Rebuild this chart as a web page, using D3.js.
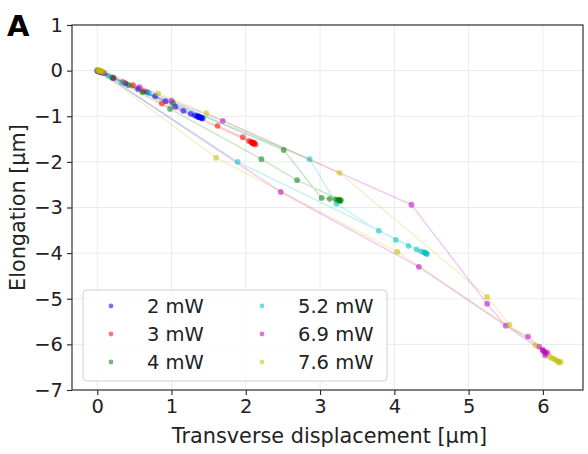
<!DOCTYPE html>
<html>
<head>
<meta charset="utf-8">
<script src="https://cdn.jsdelivr.net/npm/d3@7"></script>
<style>
  html, body { margin: 0; padding: 0; background: #fff; }
  svg { display: block; font-family: "DejaVu Sans", sans-serif; }
</style>
</head>
<body>
<svg id="chart" width="588" height="454"></svg>
<script>
// Trajectories (transverse displacement, elongation) in µm, one per laser power
const p2mW = [[0.01,0.0],[0.03,-0.02],[0.08,-0.05],[0.22,-0.16],[0.38,-0.28],[0.55,-0.40],[0.67,-0.47],[0.78,-0.56],[0.92,-0.67],[1.05,-0.79],[1.16,-0.88],[1.26,-0.95],[1.31,-0.98],[1.34,-1.0],[1.36,-1.01],[1.38,-1.02],[1.40,-1.03],[1.37,-1.02],[1.41,-1.05],[1.39,-1.03],[1.42,-1.04],[1.36,-1.0],[0.02,-0.01]];
const p3mW = [[0.0,0.0],[0.02,-0.01],[0.05,-0.03],[0.21,-0.16],[0.35,-0.25],[0.48,-0.32],[0.62,-0.45],[0.87,-0.72],[1.62,-1.21],[1.96,-1.46],[2.04,-1.54],[2.07,-1.56],[2.09,-1.58],[2.10,-1.59],[2.12,-1.60],[2.08,-1.57],[2.11,-1.58],[2.13,-1.62],[2.10,-1.60],[0.03,-0.02]];
const p4mW = [[0.01,-0.01],[0.04,-0.03],[0.20,-0.15],[0.42,-0.32],[0.61,-0.47],[1.02,-0.71],[2.51,-1.74],[3.02,-2.79],[3.13,-2.81],[3.21,-2.82],[3.24,-2.84],[3.26,-2.83],[3.27,-2.86],[3.25,-2.85],[3.28,-2.84],[2.69,-2.40],[2.21,-1.94],[0.98,-0.84],[0.05,-0.04]];
const p52mW = [[0.0,-0.01],[0.04,-0.02],[0.15,-0.11],[0.33,-0.26],[0.70,-0.50],[2.86,-1.94],[3.22,-2.92],[3.79,-3.51],[4.02,-3.71],[4.19,-3.84],[4.30,-3.92],[4.36,-3.96],[4.40,-3.98],[4.42,-4.0],[4.43,-4.01],[4.41,-3.99],[4.44,-4.02],[1.89,-2.0],[0.04,-0.03]];
const p69mW = [[0.0,0.0],[0.03,-0.01],[0.10,-0.06],[0.57,-0.36],[1.0,-0.66],[1.69,-1.10],[4.23,-2.94],[5.25,-5.11],[5.50,-5.59],[5.80,-5.83],[5.95,-6.05],[6.0,-6.12],[6.02,-6.16],[6.04,-6.20],[6.03,-6.24],[6.06,-6.18],[6.0,-6.14],[4.33,-4.30],[2.47,-2.66],[0.04,-0.02]];
const p76mW = [[0.0,0.02],[0.02,0.01],[0.04,0.0],[0.06,-0.01],[0.08,-0.03],[0.82,-0.50],[1.47,-0.93],[3.26,-2.24],[5.25,-4.96],[5.55,-5.57],[5.90,-6.02],[6.09,-6.27],[6.12,-6.30],[6.15,-6.32],[6.18,-6.35],[6.20,-6.37],[6.22,-6.40],[6.24,-6.38],[4.04,-3.97],[1.60,-1.91],[0.03,-0.01]];

const seriesLabels = ["2 mW", "3 mW", "4 mW", "5.2 mW", "6.9 mW", "7.6 mW"];
const seriesPoints = [p2mW, p3mW, p4mW, p52mW, p69mW, p76mW];
const seriesColors = ["#0000ff", "#ff0000", "#008000", "#00bfbf", "#bf00bf", "#bfbf00"];

const xTicks = [0, 1, 2, 3, 4, 5, 6];
const yTicks = [-7, -6, -5, -4, -3, -2, -1, 0, 1];
const xDomain = [-0.34, 6.54];
const yDomain = [-7, 1];

const plot = { left: 72, right: 583, top: 25, bottom: 390 };
const svg = d3.select("#chart");

const x = d3.scaleLinear().domain(xDomain).range([plot.left, plot.right]);
const y = d3.scaleLinear().domain(yDomain).range([plot.bottom, plot.top]);

// grid
const grid = svg.append("g").attr("stroke", "#ebebeb").attr("stroke-width", 1);
grid.selectAll(".gx").data(xTicks).join("line")
  .attr("x1", d => x(d)).attr("x2", d => x(d))
  .attr("y1", plot.top).attr("y2", plot.bottom);
grid.selectAll(".gy").data(yTicks).join("line")
  .attr("x1", plot.left).attr("x2", plot.right)
  .attr("y1", d => y(d)).attr("y2", d => y(d));

svg.append("clipPath").attr("id", "plotclip")
  .append("rect").attr("x", plot.left).attr("y", plot.top)
  .attr("width", plot.right - plot.left).attr("height", plot.bottom - plot.top);

const dataLayer = svg.append("g").attr("clip-path", "url(#plotclip)");
const line = d3.line().x(d => x(d[0])).y(d => y(d[1]));

// connecting paths first, then the markers
seriesPoints.forEach((pts, i) => {
  dataLayer.append("path").datum(pts)
    .attr("d", line)
    .attr("fill", "none")
    .attr("stroke", seriesColors[i])
    .attr("stroke-opacity", 0.2)
    .attr("stroke-width", 1.5)
    .attr("stroke-linejoin", "round");
});
seriesPoints.forEach((pts, i) => {
  dataLayer.append("g").selectAll("circle").data(pts).join("circle")
    .attr("cx", d => x(d[0])).attr("cy", d => y(d[1]))
    .attr("r", 2.9)
    .attr("fill", seriesColors[i])
    .attr("fill-opacity", 0.55);
});

// axes
const xAxis = d3.axisBottom(x).tickValues(xTicks).tickSize(5).tickPadding(4)
  .tickFormat(d => d3.format("d")(d));
const yAxis = d3.axisLeft(y).tickValues(yTicks).tickSize(5).tickPadding(4)
  .tickFormat(d => (d < 0 ? "\u2212" + Math.abs(d) : String(d)));

const gx = svg.append("g").attr("transform", `translate(0,${plot.bottom})`).call(xAxis);
const gy = svg.append("g").attr("transform", `translate(${plot.left},0)`).call(yAxis);
[gx, gy].forEach(g => {
  g.select(".domain").remove();
  g.selectAll(".tick line").attr("stroke", "#222").attr("stroke-width", 1.1);
  g.selectAll(".tick text").attr("fill", "#222").style("font-size", "19.5px")
    .style("font-family", "'DejaVu Sans', sans-serif");
});

// frame
svg.append("rect")
  .attr("x", plot.left).attr("y", plot.top)
  .attr("width", plot.right - plot.left).attr("height", plot.bottom - plot.top)
  .attr("fill", "none").attr("stroke", "#333").attr("stroke-width", 1.2);

// axis titles
svg.append("text")
  .attr("x", (plot.left + plot.right) / 2 + 2).attr("y", 443)
  .attr("text-anchor", "middle").attr("fill", "#222")
  .style("font-size", "20.8px")
  .text("Transverse displacement [µm]");
svg.append("text")
  .attr("transform", `translate(25,${(plot.top + plot.bottom) / 2}) rotate(-90)`)
  .attr("text-anchor", "middle").attr("fill", "#222")
  .style("font-size", "20.8px")
  .text("Elongation [µm]");

// panel letter
svg.append("text")
  .attr("x", 7).attr("y", 36)
  .attr("fill", "#000").style("font-size", "29px").style("font-weight", "bold")
  .text("A");

// legend
const legend = svg.append("g");
legend.append("rect")
  .attr("x", 83).attr("y", 290).attr("width", 304).attr("height", 91)
  .attr("rx", 4).attr("ry", 4)
  .attr("fill", "#fff").attr("fill-opacity", 0.8)
  .attr("stroke", "#d0d0d0").attr("stroke-width", 1);

seriesLabels.forEach((lab, i) => {
  const col = Math.floor(i / 3), row = i % 3;
  const mx = col === 0 ? 111 : 262;
  const my = 306 + row * 28;
  legend.append("circle")
    .attr("cx", mx).attr("cy", my).attr("r", 2.4)
    .attr("fill", seriesColors[i]).attr("fill-opacity", 0.55);
  legend.append("text")
    .attr("x", mx + 36).attr("y", my + 7)
    .attr("fill", "#222").style("font-size", "19.5px")
    .text(lab);
});
</script>
</body>
</html>
